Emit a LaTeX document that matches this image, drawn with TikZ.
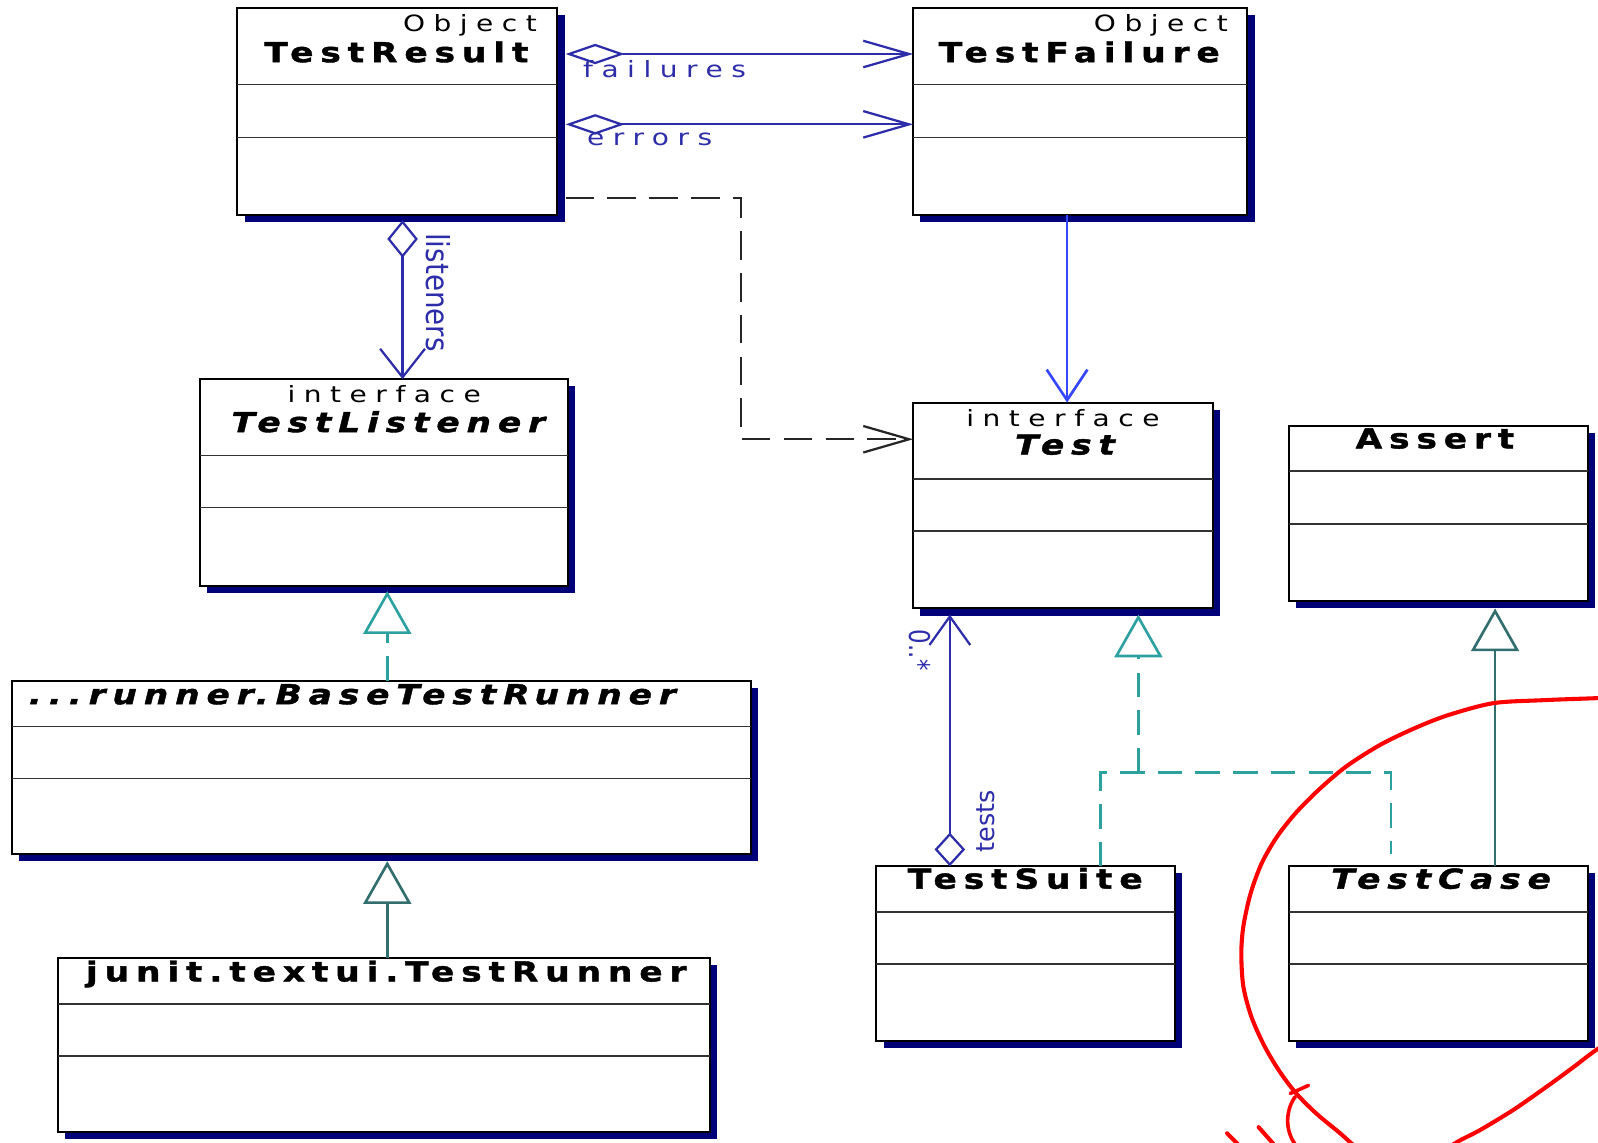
\documentclass[tikz,border=0pt]{standalone}
\usepackage{fontspec}
\setmainfont{DejaVu Sans}
\newfontfamily\titlefont[LetterSpace=25, FakeStretch=1.25, BoldFeatures={FakeBold=1.5}, BoldItalicFeatures={FakeBold=1.5}]{DejaVu Sans}
\newfontfamily\smallfont[LetterSpace=38, FakeStretch=1.25]{DejaVu Sans}
\newfontfamily\labelfont{DejaVu Sans}
\usetikzlibrary{arrows.meta,shadows,calc}
\definecolor{shadownavy}{RGB}{0,0,120}
\definecolor{assocblue}{RGB}{45,45,170}
\definecolor{brightblue}{RGB}{55,70,255}
\definecolor{tealdash}{RGB}{45,160,160}
\definecolor{tealsolid}{RGB}{50,110,110}
\definecolor{handred}{RGB}{255,0,0}
\newcommand\mkclass[7]{%
  \node[classbox, minimum width=#4pt-#2pt, minimum height=#5pt-#3pt] (#1) at (#2,#3) {};
  \draw[sepline] (#1.west |- 0,#6) -- (#1.east |- 0,#6);
  \draw[sepline] (#1.west |- 0,#7) -- (#1.east |- 0,#7);
}
\begin{document}
\begin{tikzpicture}[x=1pt,y=-1pt,
  classbox/.style={draw=black, line width=2pt, fill=white, inner sep=0pt, outer sep=0pt,
    anchor=north west,
    drop shadow={shadow xshift=7pt, shadow yshift=-7pt, fill=shadownavy, opacity=1}},
  sepline/.style={draw=black!80, line width=1.6pt},
  ttl/.style={font=\titlefont\fontsize{27}{30}\selectfont, inner sep=0pt},
  smalltxt/.style={font=\smallfont\fontsize{22}{26}\selectfont, inner sep=0pt},
  lbl/.style={font=\smallfont\fontsize{22}{26}\selectfont, text=assocblue, inner sep=0pt},
  rlbl/.style={font=\labelfont, text=assocblue, inner sep=0pt},
  assoc/.style={draw=assocblue, line width=2.2pt},
  dep/.style={draw=black!85, line width=2.2pt, dash pattern=on 28pt off 13pt},
  realiz/.style={draw=tealdash, line width=2.6pt, dash pattern=on 24pt off 13pt},
  gener/.style={draw=tealsolid, line width=2.6pt},
  openv/.tip={Straight Barb[length=45pt,width=26pt]},
  tri/.tip={Triangle[open,length=42pt,width=47pt]},
  pen/.style={draw=handred, line width=4pt, line cap=round}
]
\fill[white] (0,0) rectangle (1568,1121);
\useasboundingbox (0,0) rectangle (1568,1121);
\clip (0,0) rectangle (1568,1121);

% classes
\mkclass{tr}{233}{8}{547}{211}{83}{135}
\mkclass{tf}{896}{8}{1224}{211}{83}{135}
\mkclass{tl}{196}{372}{557}{575}{447}{498}
\mkclass{test}{896}{395}{1190}{597}{470}{521}
\mkclass{as}{1265}{418}{1558}{590}{462}{514}
\mkclass{btr}{12}{668}{737}{838}{713}{764}
\mkclass{jr}{57}{940}{697}{1111}{985}{1036}
\mkclass{ts}{860}{850}{1153}{1021}{895}{946}
\mkclass{tc}{1265}{850}{1558}{1021}{895}{946}

% titles
\node[smalltxt, anchor=base east] (tro) at (527,31) {Object};
\node[ttl, anchor=base] (trn) at (389,61) {\bfseries TestResult};
\node[smalltxt, anchor=base east] (tfo) at (1205,31) {Object};
\node[ttl, anchor=base] (tfn) at (1059,61) {\bfseries TestFailure};
\node[smalltxt, anchor=base] (tli) at (377,395) {interface};
\node[ttl, anchor=base] (tln) at (381,424) {\bfseries\itshape TestListener};
\node[smalltxt, anchor=base] (testi) at (1043,418) {interface};
\node[ttl, anchor=base] (testn) at (1045,446) {\bfseries\itshape Test};
\node[ttl, anchor=base] (asn) at (1408,440) {\bfseries Assert};
\node[ttl, anchor=base west] (btrn) at (28,691) {\bfseries\itshape ...runner.BaseTestRunner};
\node[ttl, anchor=base] (jrn) at (379,963) {\bfseries junit.textui.TestRunner};
\node[ttl, anchor=base] (tsn) at (1006,872) {\bfseries TestSuite};
\node[ttl, anchor=base] (tcn) at (1414,872) {\bfseries\itshape TestCase};

% associations TestResult -> TestFailure
\draw[assoc, shorten <=8pt, {Diamond[open,length=58pt,width=20pt]}-openv] (tr.east |- 0,53) -- (tf.west |- 0,53);
\draw[assoc, shorten <=8pt, {Diamond[open,length=58pt,width=20pt]}-openv] (tr.east |- 0,122) -- (tf.west |- 0,122);
\node[lbl, anchor=base west] (flbl) at (572,76) {failures};
\node[lbl, anchor=base west] (elbl) at (576,143) {errors};

% dependency TestResult -> Test
\draw[dep, shorten <=8pt, -openv] (tr.east |- 0,194) -- (727,194) |- (test.west |- 0,431);

% TestFailure -> Test
\draw[draw=brightblue, line width=2.6pt, -{Straight Barb[length=30pt,width=40pt]}] (tf.south -| 1047,0) -- (test.north -| 1047,0);

% listeners
\draw[assoc, shorten <=5pt, {Diamond[open,length=37pt,width=30pt]}-{Straight Barb[length=28pt,width=44pt]}] (tr.south -| 395,0) -- (tl.north -| 395,0);
\node[rlbl, rotate=-90] (llbl) at (430,287) {\fontsize{31}{33}\selectfont\scalebox{0.88}[1]{listeners}};

% tests
\draw[assoc, shorten <=6pt, {Straight Barb[length=28pt,width=40pt]}-{Diamond[open,length=33pt,width=30pt]}] (test.south -| 932,0) -- (ts.north -| 932,0);
\node[rlbl, rotate=90] (tlbl) at (967,806) {\fontsize{25}{27}\selectfont tests};
\node[rlbl, rotate=-90] (mlbl) at (903,638) {\fontsize{28}{30}\selectfont\scalebox{0.8}[1]{0..*}};

% realizations / generalizations
\draw[realiz, -tri] (btr.north -| 380,0) -- ($(tl.south -| 380,0)+(0,5)$);
\draw[gener, -tri] (jr.north -| 380,0) -- ($(btr.south -| 380,0)+(0,7)$);
\coordinate (jn) at (1117,758);
\draw[realiz] (ts.north -| 1080,0) |- (jn) -| ($(tc.north -| 1365,0)+(0,-12)$);
\draw[realiz, -tri] (jn) -- ($(test.south -| 1117,0)+(0,6)$);
\draw[gener, -tri] (tc.north -| 1467,0) -- ($(as.south -| 1467,0)+(0,7)$);

% hand-drawn red mark
\draw[pen] plot[smooth, tension=0.5] coordinates {
  (1620,683) (1568,685) (1515,687) (1465,690) (1420,702) (1387,715) (1354,731)
  (1321,752) (1295,774) (1272,797) (1253,821) (1238,847) (1227,877) (1220,909)
  (1218,936) (1220,968) (1228,998) (1241,1027) (1256,1052) (1272,1073)
  (1292,1093) (1315,1112) (1335,1130) (1352,1145)};
\draw[pen] plot[smooth, tension=0.5] coordinates {
  (1620,995) (1568,1029) (1544,1047) (1518,1066) (1485,1089) (1452,1109)
  (1429,1121) (1410,1135)};
\draw[pen, line width=3.5pt] (1266,1073) -- (1284,1065);
\draw[pen, line width=3.5pt] (1271,1076) .. controls (1262,1088) and (1260,1108) .. (1271,1123);
\draw[pen] (1204,1112) -- (1215,1123);
\draw[pen] (1235,1106) -- (1250,1123);
\end{tikzpicture}
\end{document}
